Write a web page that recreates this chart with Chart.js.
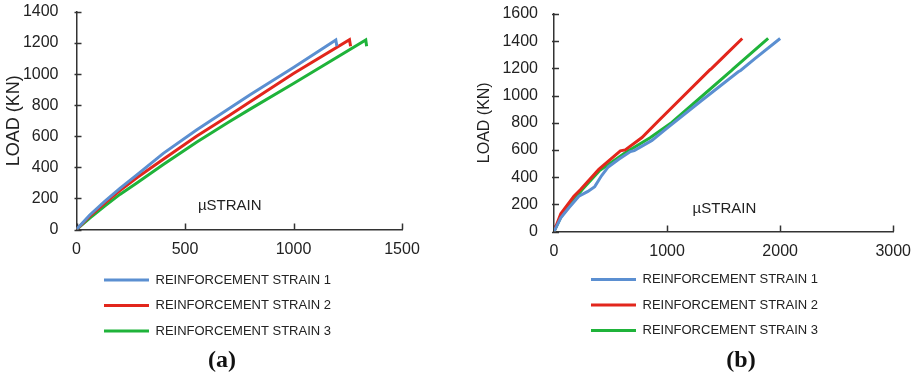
<!DOCTYPE html>
<html>
<head>
<meta charset="utf-8">
<script src="https://cdn.jsdelivr.net/npm/chart.js@4.4.1/dist/chart.umd.min.js"></script>
<style>
  html, body { margin: 0; padding: 0; background: #fff; overflow: hidden; }
  #wrap { position: relative; width: 921px; height: 377px; }
  .box { position: absolute; top: 0; height: 377px; }
  .tag { position: absolute; font: bold 24px "Liberation Serif", serif; color: #111; transform: translate(-50%, -50%); }
</style>
</head>
<body>
<div id="wrap">
  <div class="box" style="left:0;width:430px"><canvas id="chartA"></canvas></div>
  <div class="box" style="left:475px;width:446px"><canvas id="chartB"></canvas></div>
  <div class="tag" style="left:222px;top:359px">(a)</div>
  <div class="tag" style="left:741px;top:359px">(b)</div>
</div>
<script>
// (a) load vs strain
var strainA1 = [0, 60, 130, 200, 278, 400, 553, 700, 800, 1000, 1195, 1200];
var loadA1   = [0, 92, 181, 265, 352, 490, 640, 775, 868, 1043, 1220, 1180];
var strainA2 = [0, 60, 130, 200, 278, 400, 553, 700, 800, 1000, 1258, 1263];
var loadA2   = [0, 84, 170, 250, 333, 452, 600, 730, 822, 1004, 1222, 1180];
var strainA3 = [0, 60, 130, 200, 278, 400, 553, 700, 800, 1000, 1333, 1337];
var loadA3   = [0, 72, 150, 226, 300, 418, 562, 690, 775, 940, 1220, 1180];

// (b) load vs strain
var strainB1 = [0, 60, 130, 220, 300, 360, 420, 480, 573, 676, 710, 866, 1000, 1300, 1630, 1650, 1777, 2000];
var loadB1   = [0, 100, 173, 259, 295, 330, 410, 475, 531, 588, 595, 670, 760, 960, 1175, 1185, 1272, 1420];
var strainB2 = [0, 60, 176, 235, 396, 587, 630, 778, 925, 1380, 1395, 1483, 1665];
var loadB2   = [0, 130, 259, 309, 457, 593, 600, 691, 815, 1190, 1200, 1272, 1420];
var strainB3 = [0, 60, 130, 250, 400, 630, 850, 1042, 1571, 1590, 1894];
var loadB3   = [0, 105, 185, 309, 446, 580, 690, 802, 1185, 1200, 1420];

var seriesNames = ['REINFORCEMENT STRAIN 1', 'REINFORCEMENT STRAIN 2', 'REINFORCEMENT STRAIN 3'];
var seriesColors = ['#5b8fd1', '#e2261c', '#1fb33a'];

var FONT = '"Liberation Sans", Arial, sans-serif';
var INK = '#222';

function pts(xs, ys) {
  return xs.map(function (x, i) { return {x: x, y: ys[i]}; });
}

// inside tick marks + the uSTRAIN caption inside the plot
var insideTicks = {
  id: 'insideTicks',
  afterLayout: function (chart, args, opts) {
    // slide the legend block to where it sits in the figure
    var lg = chart.legend;
    if (!lg) return;
    lg.left += opts.legendShift[0]; lg.right += opts.legendShift[0];
    lg.top += opts.legendShift[1]; lg.bottom += opts.legendShift[1];
  },
  beforeDatasetsDraw: function (chart) {
    var ctx = chart.ctx, area = chart.chartArea, x = chart.scales.x, y = chart.scales.y;
    ctx.save();
    ctx.strokeStyle = '#333';
    ctx.lineWidth = 1.5;
    x.ticks.forEach(function (t) {
      var px = Math.round(x.getPixelForValue(t.value)) + 0.5;
      ctx.beginPath(); ctx.moveTo(px, area.bottom); ctx.lineTo(px, area.bottom - 6); ctx.stroke();
    });
    y.ticks.forEach(function (t) {
      var py = Math.round(y.getPixelForValue(t.value)) + 0.5;
      ctx.beginPath(); ctx.moveTo(area.left - 2, py); ctx.lineTo(area.left + 5, py); ctx.stroke();
    });
    ctx.restore();
  },
  afterDraw: function (chart, args, opts) {
    var ctx = chart.ctx;
    ctx.save();
    ctx.font = '15px ' + FONT;
    ctx.fillStyle = INK;
    ctx.textAlign = 'center';
    ctx.textBaseline = 'middle';
    ctx.fillText('\u00b5STRAIN', chart.scales.x.getPixelForValue(opts.at[0]), chart.scales.y.getPixelForValue(opts.at[1]));
    ctx.restore();
  }
};

function plain(v) { return String(v); }

// legend samples as flat 3px bars, no outline
function flatLabels(chart) {
  var items = Chart.defaults.plugins.legend.labels.generateLabels(chart);
  items.forEach(function (it) { it.lineWidth = 0; });
  return items;
}

function makeChart(id, sets, xMax, xStep, yMax, labelAt, legendShift, yTickPad, yTitleSize, yWidth, pad) {
  var datasets = sets.map(function (s, i) {
    return {
      label: seriesNames[i],
      data: pts(s[0], s[1]),
      borderColor: seriesColors[i],
      backgroundColor: seriesColors[i],
      borderWidth: 3,
      pointRadius: 0,
      showLine: true,
      tension: 0
    };
  });
  return new Chart(document.getElementById(id), {
    type: 'scatter',
    data: {datasets: datasets},
    plugins: [insideTicks],
    options: {
      responsive: true,
      maintainAspectRatio: false,
      animation: false,
      layout: {padding: pad},
      plugins: {
        insideTicks: {at: labelAt, legendShift: legendShift},
        tooltip: {enabled: false},
        legend: {
          position: 'bottom',
          labels: {
            boxWidth: 45,
            boxHeight: 3,
            padding: 12.5,
            color: INK,
            font: {family: FONT, size: 13},
            generateLabels: flatLabels
          }
        }
      },
      scales: {
        x: {
          type: 'linear',
          min: 0, max: xMax,
          ticks: {stepSize: xStep, color: INK, padding: 10, callback: plain, font: {family: FONT, size: 16}},
          grid: {drawOnChartArea: false, drawTicks: false},
          border: {color: '#333', width: 1.5},
          afterFit: function (s) { s.height = 29; }
        },
        y: {
          min: 0, max: yMax,
          ticks: {stepSize: 200, color: INK, padding: yTickPad, callback: plain, font: {family: FONT, size: 16}},
          grid: {drawOnChartArea: false, drawTicks: false},
          border: {color: '#333', width: 1.5},
          title: {display: true, text: 'LOAD (KN)', color: INK, padding: 0, font: {family: FONT, size: yTitleSize}},
          afterFit: function (s) { s.width = yWidth; s.paddingTop = 0; s.paddingBottom = 0; }
        }
      }
    }
  });
}

makeChart('chartA',
  [[strainA1, loadA1], [strainA2, loadA2], [strainA3, loadA3]],
  1500, 500, 1400, [706, 149], [15, 2.5], 18, 18, 73.5,
  {left: 3, right: 28, top: 12, bottom: 32});

makeChart('chartB',
  [[strainB1, loadB1], [strainB2, loadB2], [strainB3, loadB3]],
  3000, 1000, 1600, [1507, 163], [19.5, 0], 16, 16, 79,
  {left: 0, right: 26, top: 14, bottom: 30});
</script>
</body>
</html>
